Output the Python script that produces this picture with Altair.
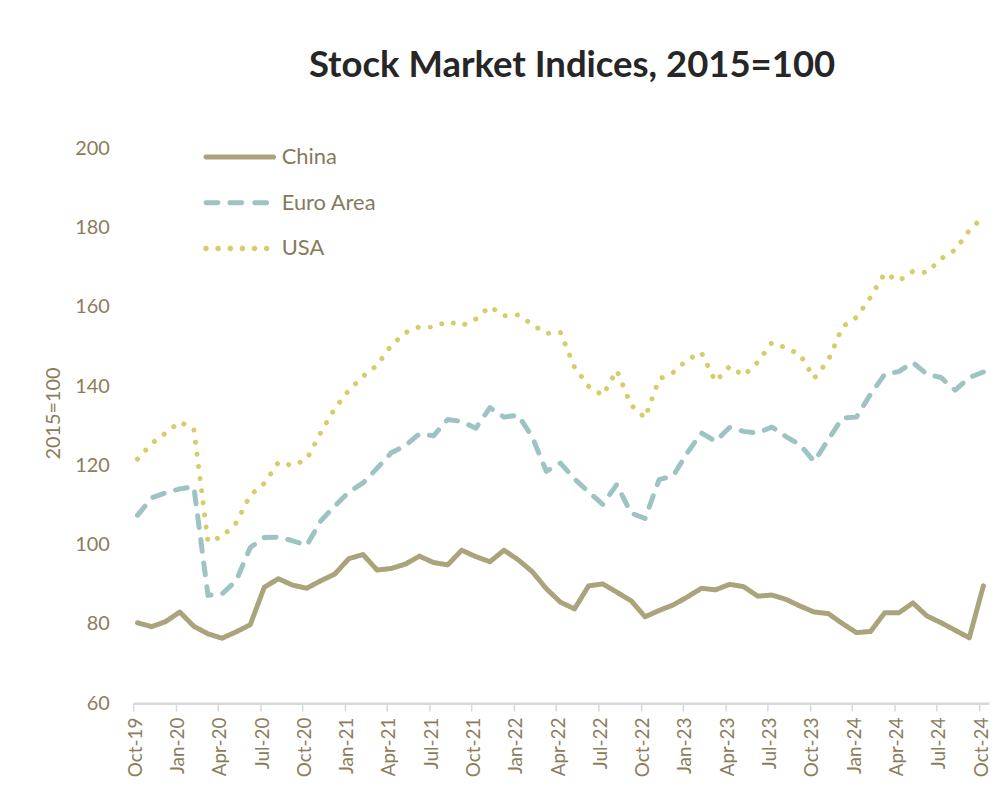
import math
import altair as alt
import pandas as pd

# ---- data ----
months = [d.strftime("%b-%y") for d in pd.date_range("2019-10-01", "2024-10-01", freq="MS")]
tick_labels = ["Oct-19", "Jan-20", "Apr-20", "Jul-20", "Oct-20", "Jan-21", "Apr-21",
               "Jul-21", "Oct-21", "Jan-22", "Apr-22", "Jul-22", "Oct-22", "Jan-23",
               "Apr-23", "Jul-23", "Oct-23", "Jan-24", "Apr-24", "Jul-24", "Oct-24"]

series_names = ["China", "Euro Area", "USA"]

china = [80.3, 79.3, 80.6, 83.0, 79.4, 77.5, 76.4, 78.0, 79.8, 89.3,
         91.4, 89.8, 89.0, 90.9, 92.6, 96.5, 97.5, 93.6, 94.0, 95.1,
         97.1, 95.5, 94.9, 98.6, 97.0, 95.7, 98.6, 96.2, 93.2, 88.9,
         85.5, 83.8, 89.6, 90.1, 88.0, 85.9, 81.8, 83.4, 84.8, 86.8,
         89.0, 88.6, 90.0, 89.4, 87.0, 87.3, 86.2, 84.5, 83.0, 82.6,
         80.1, 77.8, 78.1, 82.8, 82.8, 85.3, 82.0, 80.3, 78.4, 76.5,
         89.6]

euro = [107.4, 111.8, 113.1, 114.1, 114.6, 87.2, 87.6, 90.9, 99.3, 101.8,
        101.9, 101.0, 99.8, 106.0, 109.8, 113.3, 115.6, 119.3, 123.2, 125.0,
        128.0, 127.5, 131.6, 131.1, 129.4, 134.6, 132.2, 132.7, 127.2, 118.5,
        120.6, 116.6, 113.3, 110.2, 115.2, 108.0, 106.6, 116.4, 117.4, 123.2,
        128.2, 126.1, 129.6, 128.6, 128.2, 129.7, 127.3, 125.2, 121.0, 126.5,
        132.0, 132.2, 138.0, 143.0, 143.7, 146.0, 143.0, 142.2, 139.0, 142.2,
        143.6]

usa = [121.6, 125.5, 128.2, 131.0, 129.2, 100.8, 102.0, 105.5, 112.5, 115.5,
       120.8, 120.0, 121.5, 128.3, 134.4, 139.0, 142.5, 145.3, 150.3, 153.5,
       155.0, 154.9, 156.4, 155.3, 157.0, 160.1, 157.8, 158.0, 155.6, 153.3,
       153.6, 144.8, 140.0, 137.7, 144.0, 135.3, 132.0, 141.8, 143.5, 146.7,
       148.5, 141.2, 145.0, 142.7, 146.1, 151.0, 149.7, 148.0, 142.0, 146.5,
       155.0, 157.4, 162.5, 168.5, 166.6, 169.0, 168.7, 172.2, 174.4, 179.3,
       182.8]

colors = ["#a9a47b", "#9dc3c2", "#d6cc6a"]
dashes = [[1, 0], [12, 12], [0.1, 12.2]]

rows = []
for name, vals in zip(series_names, [china, euro, usa]):
    for i, v in enumerate(vals):
        rows.append({"idx": i, "month": months[i], "series": name, "value": v})
df = pd.DataFrame(rows)

# ---- legend symbol shapes (unit box scaled by sqrt(size)/2) ----
SYM_SIZE = 4706            # sqrt -> ~68.6 px entry size
HALF = math.sqrt(SYM_SIZE) / 2  # px per path unit


def stadium(x0_px, x1_px, r_px, n=8):
    r = r_px / HALF
    x0 = x0_px / HALF + r
    x1 = x1_px / HALF - r
    if x1 < x0:
        x0 = x1 = (x0 + x1) / 2
    pts = []
    for k in range(n + 1):
        a = -math.pi / 2 + math.pi * k / n
        pts.append((x1 + r * math.cos(a), r * math.sin(a)))
    for k in range(n + 1):
        a = math.pi / 2 + math.pi * k / n
        pts.append((x0 + r * math.cos(a), r * math.sin(a)))
    return "M" + " L".join(f"{x:.4f},{y:.4f}" for x, y in pts) + " Z"


solid_path = stadium(-36.5, 36.5, 2.6)
dash_path = " ".join(stadium(a, b, 2.6) for a, b in [(-36.5, -19.5), (-12.5, 4.5), (12.5, 29.5)])
dot_path = " ".join(stadium(c - 2.8, c + 2.8, 2.8) for c in [-34, -21.8, -9.6, 2.6, 14.8, 27.0])
shape_paths = [solid_path, dash_path, dot_path]

label_color = "#8b7d5b"
font = "Lato"
label_js = "[" + ",".join("'" + t + "'" for t in tick_labels) + "]"

x_enc = alt.X("idx:Q",
              scale=alt.Scale(domain=[-0.3, 60.4], nice=False, zero=False),
              axis=alt.Axis(values=list(range(0, 61, 3)),
                            labelExpr=label_js + "[round(datum.value/3)]",
                            labelAngle=270, labelFontSize=19, labelFont=font,
                            labelColor=label_color, labelPadding=6,
                            tickOffset=-4.3, labelOffset=2,
                            tickColor="#d9d9d9", tickWidth=1.5, tickSize=8,
                            domainColor="#d9d9d9", domainWidth=2.5,
                            grid=False, title=None))
y_enc = alt.Y("value:Q",
              scale=alt.Scale(domain=[60, 200], nice=False, zero=False),
              axis=alt.Axis(values=list(range(60, 201, 20)), labelFontSize=20,
                            labelFont=font, labelColor=label_color, labelPadding=24,
                            ticks=False, domain=False, grid=False,
                            title="2015=100", titleFont=font, titleFontSize=20,
                            titleFontWeight="normal", titleColor=label_color,
                            titlePadding=11, titleY=266))

base = alt.Chart(df)

line_layers = []
for name, col, dash in zip(series_names, colors, dashes):
    line_layers.append(
        base.transform_filter(alt.datum.series == name).mark_line(
            strokeWidth=5, strokeCap="round", strokeJoin="round",
            color=col, strokeDash=dash
        ).encode(x=x_enc, y=y_enc, order="idx:Q")
    )

legend_spec = dict(orient="none", legendX=72.7, legendY=-26, title=None,
                   symbolSize=SYM_SIZE, symbolStrokeWidth=0, symbolOpacity=1,
                   labelFont=font, labelFontSize=22, labelColor="#857a5b",
                   labelOffset=7.7, rowPadding=0)

legend_layer = base.mark_point(filled=True, opacity=0).encode(
    x=x_enc, y=y_enc,
    color=alt.Color("series:N", scale=alt.Scale(domain=series_names, range=colors),
                    legend=alt.Legend(**legend_spec)),
    shape=alt.Shape("series:N", scale=alt.Scale(domain=series_names, range=shape_paths),
                    legend=alt.Legend(**legend_spec)),
)

chart = alt.layer(*line_layers, legend_layer).properties(
    width=861, height=558,
    title=alt.Title("Stock Market Indices, 2015=100", font=font, fontSize=36.7,
                    fontWeight="bold", color="#262626", anchor="middle",
                    offset=38, dx=11),
    padding={"left": 126, "top": 139, "right": 2, "bottom": 90},
    autosize=alt.AutoSizeParams(type="none"),
).configure_view(stroke=None)

chart.save("out.html", embed_options={"renderer": "svg", "actions": False})
